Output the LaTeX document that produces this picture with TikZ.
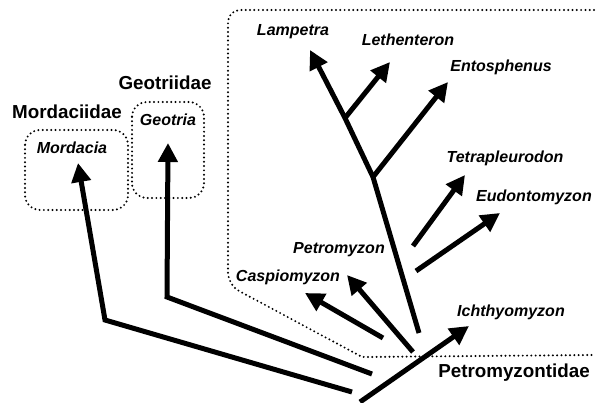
\documentclass[tikz,border=0pt]{standalone}
\usepackage{fontspec}
\setmainfont{Liberation Sans}
\usetikzlibrary{arrows.meta}

\begin{document}
\begin{tikzpicture}
      [x=1pt,y=-1pt,
       branch/.style={line width=5pt,-{Triangle[length=19pt,width=19pt]}},
       dotline/.style={line width=2.2pt,dash pattern=on 0pt off 4.3pt,line cap=round},
       every node/.style={inner sep=0pt},
       genus/.style={font=\fontsize{16}{18}\selectfont\bfseries\itshape},
       family/.style={font=\fontsize{18.8}{21}\selectfont\bfseries}]
      \useasboundingbox (0,0) rectangle (596,403);

      % family boxes
      \draw[dotline,rounded corners=15pt] (25,130) rectangle (128,210);
      \draw[dotline,rounded corners=15pt] (132,102) rectangle (204,198);
      \draw[dotline,rounded corners=12pt] (594,10) -- (228,10) -- (228,285)
            [sharp corners] -- (362,357) -- (594,355);

      \node[family] (mordfam) at (67,112) {Mordaciidae};
      \node[family] (geofam) at (165,83) {Geotriidae};
      \node[family] (petfam) at (514,373) {Petromyzontidae};

      \node[genus] (mord) at (72,148) {Mordacia};
      \node[genus] (geo) at (168,120) {Geotria};
      \node[genus] (lamp) at (293,32) {Lampetra};
      \node[genus] (leth) at (408,40) {Lethenteron};
      \node[genus] (ento) at (501,67) {Entosphenus};
      \node[genus] (tetra) at (505,158) {Tetrapleurodon};
      \node[genus] (eudo) at (534,197) {Eudontomyzon};
      \node[genus] (petro) at (339,250) {Petromyzon};
      \node[genus] (casp) at (288,277) {Caspiomyzon};
      \node[genus] (ichth) at (511,312) {Ichthyomyzon};

      % branch points
      \coordinate (mstart) at (352,392);
      \coordinate (mbend) at (105,320);
      \coordinate (mtip) at (78,163);
      \coordinate (gstart) at (372,374);
      \coordinate (gbend) at (167,297);
      \coordinate (gtip) at (168,143);
      \coordinate (istart) at (360,402);
      \coordinate (itip) at (469,326);
      \coordinate (cstart) at (383,338);
      \coordinate (ctip) at (305,293);
      \coordinate (pstart) at (413,352);
      \coordinate (ptip) at (347,275);
      \coordinate (tstart) at (413,246);
      \coordinate (ttip) at (465,175);
      \coordinate (eustart) at (416,271);
      \coordinate (eutip) at (500,213);
      \coordinate (base) at (419,333);
      \coordinate (n1) at (373,177);
      \coordinate (n2) at (345,118);
      \coordinate (latip) at (310,50);
      \coordinate (letip) at (390,62);
      \coordinate (entip) at (448,82);

      \draw[branch] (mstart) -- (mbend) -- (mtip);
      \draw[branch] (gstart) -- (gbend) -- (gtip);
      \draw[branch] (base) -- (n1) -- (n2) -- (latip);

      \foreach \from/\to in {istart/itip,cstart/ctip,pstart/ptip,tstart/ttip,
                             eustart/eutip,n1/entip,n2/letip}
      \draw[branch] (\from) -- (\to);
\end{tikzpicture}
\end{document}
